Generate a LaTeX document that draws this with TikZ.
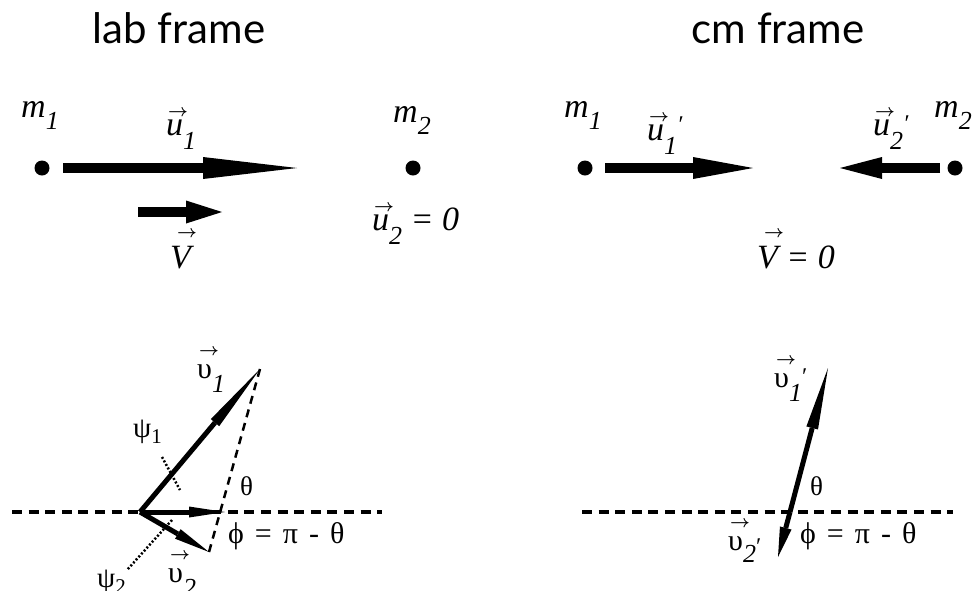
\documentclass[tikz,border=0pt]{standalone}
\usepackage{fontspec}
\setmainfont{Liberation Serif}
\newfontfamily\lbf{Liberation Serif}
\newfontfamily\titlefont{Lato}
\usetikzlibrary{arrows.meta}
\newcommand{\fs}[1]{\fontsize{#1}{#1}\selectfont}
\newcommand{\vlet}[3]{\rlap{\hspace*{#2}\raisebox{#3}{\fs{17}\boldmath$\rightarrow$}}#1}
\newcommand{\isub}[2][-12pt]{\raisebox{#1}{\fs{26}\itshape #2}}
\newcommand{\pr}[1]{\raisebox{#1}{\fs{24}′}}
\newcommand{\psub}[1]{\raisebox{-6pt}{\fs{21}#1}}
\newcommand{\phieq}{\fs{30}\spaceskip=11pt plus 0pt minus 0pt\relax ϕ = π - θ}
\begin{document}
\begin{tikzpicture}[x=1pt,y=-1pt,
  dot/.style={circle,fill=black,inner sep=0pt,minimum size=15pt},
  lbl/.style={inner sep=0pt,anchor=base west,font=\lbf},
  ttl/.style={inner sep=0pt,anchor=base,font=\titlefont\fs{42}},
  fat/.style={line width=10pt},
  mid/.style={line width=5pt},
  hdash/.style={line width=4pt,dash pattern=on 10pt off 6.6pt},
  tdash/.style={line width=2.5pt,dash pattern=on 8pt off 6pt},
  tdot/.style={line width=2.5pt,dash pattern=on 2pt off 2pt}]
\useasboundingbox (0,0) rectangle (974,590);

% titles
\node[ttl] (t1) at (179,43) {lab frame};
\node[ttl] (t2) at (778,43) {cm frame};

% ---------- lab frame, top ----------
\node[dot] (m1L) at (42,168) {};
\node[dot] (m2L) at (413,168) {};
\coordinate (u1s) at (63,168);
\coordinate (u1e) at (297,168);
\coordinate (Vs) at (138,212);
\coordinate (Ve) at (222,212);
\draw[fat,-{Triangle[length=94pt,width=22pt,line width=0pt]}] (u1s) -- (u1e);
\draw[fat,-{Triangle[length=36pt,width=23pt,line width=0pt]}] (Vs) -- (Ve);
\node[lbl] (lm1L) at (21,117) {\fs{34}\itshape m\isub{1}};
\node[lbl] (lu1L) at (166,135) {\fs{34}\vlet{\itshape u}{2pt}{19pt}\isub[-14pt]{1}};
\node[lbl] (lVL) at (170,268) {\fs{34}\vlet{\itshape V}{7pt}{31pt}};
\node[lbl] (lm2L) at (393,122) {\fs{34}\itshape m\isub{2}};
\node[lbl] (lu2L) at (372,230) {\fs{34}\vlet{\itshape u}{2pt}{19pt}\isub[-14pt]{2} = \textit{0}};

% ---------- cm frame, top ----------
\node[dot] (m1C) at (585,168) {};
\node[dot] (m2C) at (955,168) {};
\coordinate (u1ps) at (605,168);
\coordinate (u1pe) at (753,168);
\coordinate (u2ps) at (940,168);
\coordinate (u2pe) at (840,168);
\draw[fat,-{Triangle[length=60pt,width=22pt,line width=0pt]}] (u1ps) -- (u1pe);
\draw[fat,-{Triangle[length=42pt,width=22pt,line width=0pt]}] (u2ps) -- (u2pe);
\node[lbl] (lm1C) at (564,117) {\fs{34}\itshape m\isub{1}};
\node[lbl] (lu1C) at (647,140) {\fs{34}\vlet{\itshape u}{2pt}{19pt}\isub[-14pt]{1}\pr{8pt}};
\node[lbl] (lu2C) at (873,135) {\fs{34}\vlet{\itshape u}{2pt}{19pt}\isub[-14pt]{2}\pr{4pt}};
\node[lbl] (lm2C) at (934,117) {\fs{34}\itshape m\isub{2}};
\node[lbl] (lVC) at (757,268) {\fs{34}\vlet{\itshape V}{7pt}{31pt} = \textit{0}};

% ---------- lab frame, bottom ----------
\coordinate (hl1) at (12,512);
\coordinate (hl2) at (382,512);
\coordinate (O) at (140,512);
\coordinate (v1t) at (260,369);
\coordinate (Vt) at (225,512);
\coordinate (v2t) at (209,552);
\coordinate (p1a) at (162,457);
\coordinate (p1b) at (180,490);
\coordinate (p2a) at (172,520);
\coordinate (p2b) at (127,570);
\draw[hdash] (hl1) -- (hl2);
\draw[tdash] (v1t) -- (v2t);
\draw[tdot] (p1a) -- (p1b);
\draw[tdot] (p2a) -- (p2b);
\draw[mid,-{Triangle[length=70pt,width=11pt,line width=0pt]}] (O) -- (v1t);
\draw[mid,-{Triangle[length=36pt,width=11pt,line width=0pt]}] (O) -- (Vt);
\draw[mid,-{Triangle[length=36pt,width=11pt,line width=0pt]}] (O) -- (v2t);
\node[lbl] (lv1) at (197,378) {\fs{30}\vlet{υ}{2pt}{23pt}\isub[-14pt]{1}};
\node[lbl] (lpsi1) at (133,437) {\fs{29}ψ\psub{1}};
\node[lbl] (lth1) at (240,495) {\fs{27}θ};
\node[lbl] (lphi1) at (228,543) {\phieq};
\node[lbl] (lpsi2) at (97,587) {\fs{29}ψ\psub{2}};
\node[lbl] (lv2) at (168,582) {\fs{30}\vlet{υ}{2pt}{23pt}\isub[-14pt]{2}};

% ---------- cm frame, bottom ----------
\coordinate (hr1) at (582,512);
\coordinate (hr2) at (953,512);
\coordinate (C) at (790,512);
\coordinate (c1t) at (828,368);
\coordinate (c2t) at (778,557);
\draw[hdash] (hr1) -- (hr2);
\draw[mid,-{Triangle[length=62pt,width=12pt,line width=0pt]}] (C) -- (c1t);
\draw[mid,-{Triangle[length=30pt,width=12pt,line width=0pt]}] (C) -- (c2t);
\node[lbl] (lv1p) at (774,387) {\fs{30}\vlet{υ}{2pt}{23pt}\isub[-14pt]{1}\pr{3pt}};
\node[lbl] (lth2) at (810,495) {\fs{27}θ};
\node[lbl] (lv2p) at (728,550) {\fs{30}\vlet{υ}{2pt}{23pt}\isub[-12pt]{2}\pr{-4pt}};
\node[lbl] (lphi2) at (800,543) {\phieq};
\end{tikzpicture}
\end{document}
